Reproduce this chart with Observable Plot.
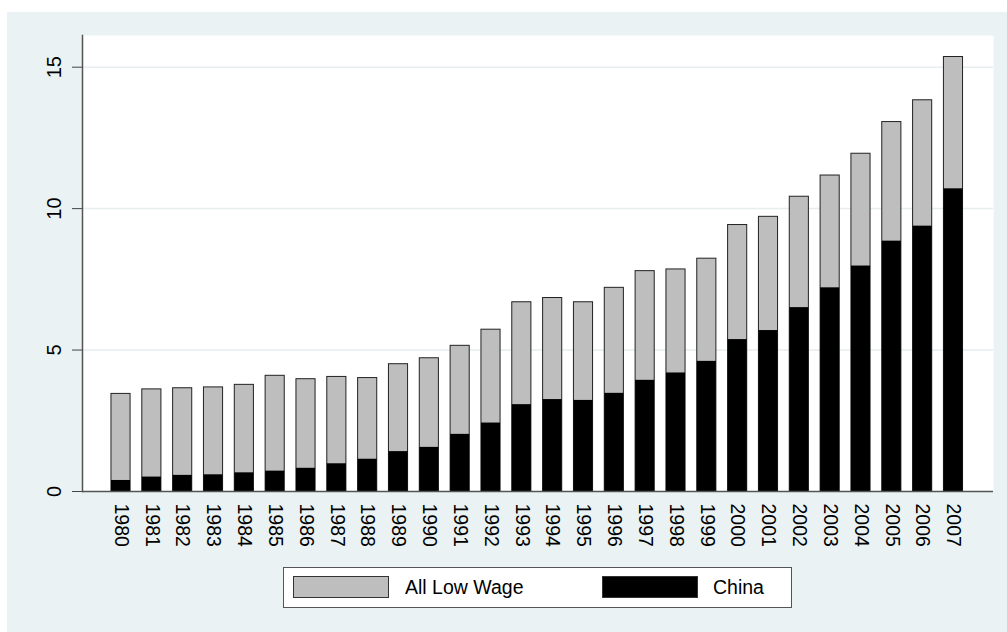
<!DOCTYPE html>
<html>
<head>
<meta charset="utf-8">
<script src="https://cdn.jsdelivr.net/npm/d3@7"></script>
<script src="https://cdn.jsdelivr.net/npm/@observablehq/plot@0.6"></script>
<style>
  html, body { margin: 0; padding: 0; background: #ffffff; }
  body { width: 1007px; height: 632px; position: relative; overflow: hidden; font-family: "Liberation Sans", Arial, Helvetica, sans-serif; }
  #panel { position: absolute; left: 7px; top: 12px; width: 1000px; height: 620px; background: #eaf2f3; }
  #chart { position: absolute; left: 0; top: 0; }
  #legend { position: absolute; left: 276px; top: 555px; width: 507px; height: 39px; background: #ffffff; border: 1px solid #555; }
  .sw { position: absolute; top: 8px; width: 96px; height: 22px; box-sizing: border-box; border: 1px solid #333; }
  .lt { position: absolute; top: 7px; font-size: 19.5px; line-height: 24px; color: #000; white-space: nowrap; }
</style>
</head>
<body>
<div id="panel">
  <div id="chart"></div>
  <div id="legend"></div>
</div>
<script>
const years = ["1980","1981","1982","1983","1984","1985","1986","1987","1988","1989","1990","1991","1992","1993","1994","1995","1996","1997","1998","1999","2000","2001","2002","2003","2004","2005","2006","2007"];
const allLowWage = [3.45,3.61,3.65,3.68,3.77,4.09,3.97,4.05,4.01,4.50,4.71,5.15,5.72,6.69,6.84,6.69,7.20,7.79,7.85,8.23,9.42,9.71,10.42,11.17,11.94,13.06,13.83,15.36];
const china = [0.39,0.51,0.57,0.59,0.66,0.72,0.82,0.98,1.14,1.41,1.56,2.02,2.42,3.07,3.25,3.22,3.47,3.93,4.19,4.60,5.37,5.69,6.50,7.20,7.97,8.85,9.38,10.70];
const yTicks = [0, 5, 10, 15];
const seriesNames = ["All Low Wage", "China"];
const seriesColors = ["#bebebe", "#000000"];

const rows = years.map((year, i) => ({year, total: allLowWage[i], china: china[i]}));

const chart = Plot.plot({
  width: 1000,
  height: 545,
  marginLeft: 75,
  marginRight: 14,
  marginTop: 23,
  marginBottom: 66,
  style: {background: "transparent", fontFamily: "Liberation Sans, Arial, sans-serif"},
  x: {domain: years, type: "band", paddingInner: 0.38, paddingOuter: 0.19, align: 0.5, insetLeft: 23.1, insetRight: 24.6, axis: null, round: false},
  y: {domain: [0, 16.12], axis: null},
  marks: [
    Plot.frame({fill: "#ffffff", stroke: null}),
    Plot.gridY(yTicks.slice(1), {stroke: "#e6eef0", strokeOpacity: 1, strokeWidth: 1.5}),
    Plot.barY(rows, {x: "year", y: "total", fill: seriesColors[0], stroke: "#222", strokeWidth: 1}),
    Plot.barY(rows, {x: "year", y: "china", fill: seriesColors[1]}),
    Plot.axisY({ticks: yTicks, tickSize: 10, tickFormat: () => "", label: null, stroke: "#444"}),
    Plot.text(yTicks, {y: d => d, frameAnchor: "left", dx: -28, rotate: -90, textAnchor: "middle", lineAnchor: "middle", fontSize: 20, fill: "#000", text: d => String(d)}),
    Plot.text(years, {x: d => d, frameAnchor: "bottom", dy: 12, rotate: 90, textAnchor: "start", lineAnchor: "middle", fontSize: 19.5, fill: "#000", text: d => d}),
    Plot.ruleY([0], {stroke: "#555", strokeWidth: 1.5}),
    Plot.frame({anchor: "left", stroke: "#555", strokeWidth: 1.5})
  ]
});
document.getElementById("chart").appendChild(chart);

const legend = document.getElementById("legend");
const swX = [9, 318];
const txX = [121, 429];
seriesNames.forEach((name, i) => {
  const sw = document.createElement("div");
  sw.className = "sw";
  sw.style.left = swX[i] + "px";
  sw.style.background = seriesColors[i];
  legend.appendChild(sw);
  const t = document.createElement("div");
  t.className = "lt";
  t.style.left = txX[i] + "px";
  t.textContent = name;
  legend.appendChild(t);
});
</script>
</body>
</html>
